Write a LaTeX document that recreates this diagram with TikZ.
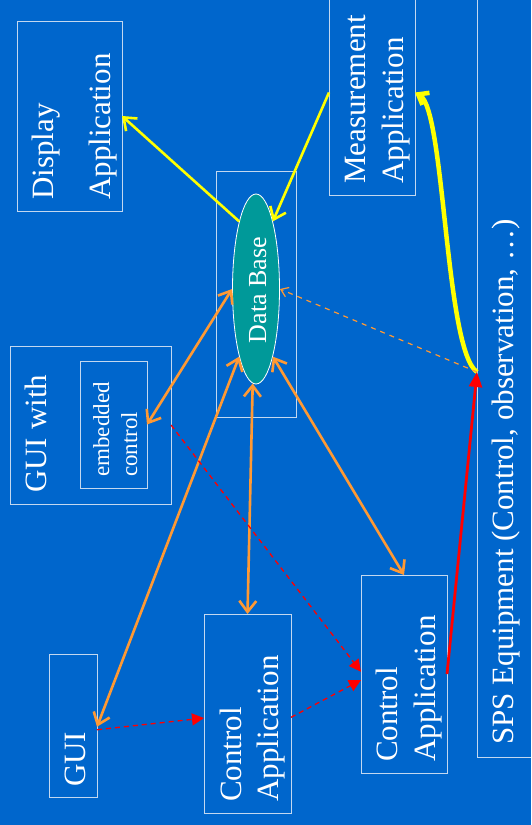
\documentclass[tikz,border=0pt]{standalone}
\usepackage{fontspec}
\setmainfont{Liberation Serif}
\usetikzlibrary{arrows.meta,shapes.geometric}
\definecolor{bgblue}{RGB}{0,102,204}
\definecolor{dbteal}{RGB}{0,153,153}
\definecolor{arrorange}{RGB}{255,153,51}
\definecolor{arryellow}{RGB}{255,255,0}
\definecolor{arrred}{RGB}{255,0,0}
\definecolor{edgecol}{RGB}{195,216,240}
\begin{document}
\begin{tikzpicture}[x=1pt,y=-1pt,
  box/.style={draw=edgecol, line width=1pt, inner sep=0pt, outer sep=0pt},
  lbl/.style={text=white, inner sep=0pt, rotate=90, anchor=base west, font=\fontsize{31}{31}\selectfont},
  smalllbl/.style={lbl, font=\fontsize{23}{23}\selectfont},
  yline/.style={draw=arryellow, line width=2.6pt, -{Straight Barb[length=11pt,width=17pt]}},
  ycurve/.style={draw=arryellow, line width=4.5pt, -{Straight Barb[length=9pt,width=14pt]}},
  oline/.style={draw=arrorange, line width=2.6pt, {Straight Barb[length=11pt,width=17pt]}-{Straight Barb[length=11pt,width=17pt]}},
  odash/.style={draw=arrorange, line width=1.2pt, dash pattern=on 5pt off 5pt, -{Straight Barb[length=7pt,width=10pt]}},
  rdash/.style={draw=arrred, line width=1.3pt, dash pattern=on 5pt off 4pt, -{Triangle[length=12pt,width=12pt]}},
  rthick/.style={draw=arrred, line width=2.8pt, -{Triangle[length=15pt,width=13pt]}}
]
\clip (0,0) rectangle (531,825);
\fill[bgblue] (0,0) rectangle (531,825);

% boxes
\node[box, minimum width=105pt, minimum height=190pt] (disp) at (69.5,116) {};
\node[box, minimum width=86pt, minimum height=205pt] (meas) at (372,92.5) {};
\node[box, minimum width=80pt, minimum height=246pt] (dbbox) at (256,294) {};
\node[ellipse, draw=white, line width=0.8pt, fill=dbteal, inner sep=0pt, minimum width=47pt, minimum height=190pt] (db) at (256,289) {};
\node[box, minimum width=161pt, minimum height=158pt] (guiw) at (90.5,425) {};
\node[box, minimum width=67pt, minimum height=127pt] (emb) at (113.5,424.5) {};
\node[box, minimum width=48pt, minimum height=143pt] (gui) at (73,725.5) {};
\node[box, minimum width=87pt, minimum height=199pt] (ca1) at (247.5,713.5) {};
\node[box, minimum width=86pt, minimum height=198pt] (ca2) at (404,674) {};
\node[box, minimum width=80pt, minimum height=777pt] (sps) at (517,368.5) {};

% labels
\node[lbl] (dispA) at (53,200) {Display};
\node[lbl] (dispB) at (110,200) {Application};
\node[lbl] (measA) at (365,184) {Measurement};
\node[lbl] (measB) at (403,184) {Application};
\node[lbl, font=\fontsize{26}{26}\selectfont, anchor=base] (dbA) at (266,290) {Data Base};
\node[lbl] (guiwA) at (46,493) {GUI with};
\node[smalllbl] (embA) at (109,477) {embedded};
\node[smalllbl] (embB) at (137,477) {control};
\node[lbl] (guiA) at (85,787) {GUI};
\node[lbl] (ca1A) at (241,802) {Control};
\node[lbl] (ca1B) at (278,802) {Application};
\node[lbl] (ca2A) at (397,762) {Control};
\node[lbl] (ca2B) at (435,762) {Application};
\node[lbl] (spsA) at (513,745) {SPS Equipment (Control, observation, \ldots)};

% yellow connectors
\draw[yline] (db.104) -- (disp.east);
\draw[yline] (meas.west) -- (db.76);
\draw[ycurve] (sps.185) .. controls (445,350) and (445,110) .. (meas.east);

% orange connectors
\draw[oline] (db.west) -- (emb.east);
\draw[oline] (db.256) -- (gui.357);
\draw[oline] (db.268) -- (ca1.north);
\draw[oline] (db.284) -- (ca2.north);
\draw[odash] (sps.185) -- (db.east);

% red connectors
\draw[rdash] (gui.350) -- (ca1.186);
\draw[rdash] (ca1.355) -- (ca2.188);
\draw[rdash] (guiw.east) -- (ca2.177);
\draw[rthick] (ca2.east) -- (sps.185);
\end{tikzpicture}
\end{document}
